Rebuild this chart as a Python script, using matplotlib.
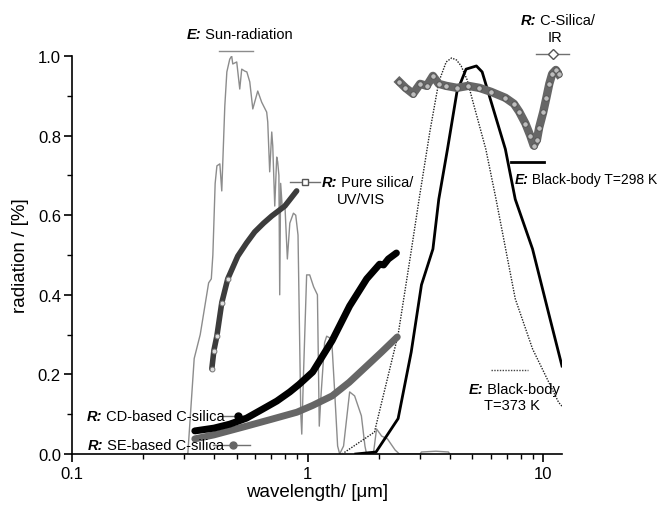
import matplotlib
matplotlib.use("Agg")
import matplotlib.pyplot as plt
from matplotlib.ticker import FixedLocator, NullFormatter, LogLocator

plt.rcParams['font.family'] = ['Liberation Sans', 'DejaVu Sans']

# ---------------- data (wavelength in um, radiation fraction) ----------------
sun_wl = [0.30, 0.31, 0.33, 0.35, 0.38, 0.39, 0.396, 0.405, 0.412, 0.424, 0.432,
          0.445, 0.454, 0.467, 0.476, 0.481, 0.50, 0.515, 0.525, 0.541, 0.552,
          0.568, 0.585, 0.614, 0.638, 0.670, 0.677, 0.690, 0.704, 0.711, 0.725,
          0.739, 0.746, 0.755, 0.761, 0.768, 0.78, 0.80, 0.82, 0.84, 0.87, 0.89,
          0.91, 0.935, 0.944, 0.96, 0.99, 1.02, 1.06, 1.10, 1.12, 1.14, 1.18,
          1.204, 1.264, 1.30, 1.34, 1.367, 1.42, 1.507, 1.582, 1.69, 1.75, 1.778,
          1.90, 1.96, 2.06, 2.18, 2.35, 2.45, 3.0, 3.04, 3.5, 3.96, 4.0]
sun_val = [0.0, 0.0, 0.24, 0.30, 0.43, 0.44, 0.50, 0.68, 0.724, 0.729, 0.661,
           0.874, 0.96, 0.992, 1.0, 0.98, 0.985, 0.917, 0.967, 0.962, 0.96,
           0.935, 0.867, 0.912, 0.884, 0.859, 0.834, 0.709, 0.809, 0.774, 0.623,
           0.746, 0.734, 0.70, 0.40, 0.68, 0.62, 0.63, 0.49, 0.58, 0.605, 0.60,
           0.55, 0.10, 0.05, 0.20, 0.45, 0.45, 0.42, 0.40, 0.07, 0.15, 0.28,
           0.296, 0.289, 0.163, 0.02, 0.0, 0.02, 0.156, 0.146, 0.096, 0.02, 0.0,
           0.0, 0.063, 0.045, 0.038, 0.01, 0.0, 0.0, 0.005, 0.007, 0.005, 0.0]

pure_wl = [0.392, 0.400, 0.412, 0.432, 0.458, 0.505, 0.55, 0.596, 0.65, 0.704, 0.80, 0.898]
pure_val = [0.214, 0.26, 0.297, 0.38, 0.44, 0.497, 0.53, 0.558, 0.58, 0.598, 0.623, 0.661]

cd_wl = [0.332, 0.40, 0.467, 0.55, 0.645, 0.74, 0.84, 0.92, 1.05, 1.24, 1.27, 1.507,
         1.78, 2.02, 2.1, 2.2, 2.38]
cd_val = [0.058, 0.065, 0.075, 0.09, 0.113, 0.133, 0.156, 0.175, 0.206, 0.275, 0.285,
          0.372, 0.44, 0.477, 0.475, 0.49, 0.505]

se_wl = [0.332, 0.40, 0.55, 0.70, 0.90, 1.05, 1.27, 1.50, 1.78, 2.05, 2.40]
se_val = [0.038, 0.048, 0.07, 0.087, 0.105, 0.122, 0.146, 0.18, 0.221, 0.255, 0.294]

bb298_wl = [1.60, 1.95, 2.42, 2.75, 3.04, 3.4, 3.6, 3.92, 4.3, 4.7, 5.2, 5.5, 6.9,
            7.6, 9.0, 10.6, 12.0]
bb298_val = [0.0, 0.005, 0.089, 0.256, 0.425, 0.515, 0.64, 0.766, 0.91, 0.967,
             0.975, 0.96, 0.766, 0.64, 0.515, 0.347, 0.221]

bb373_wl = [1.40, 1.92, 2.42, 2.75, 2.97, 3.3, 3.6, 3.87, 4.08, 4.28, 4.48, 4.75,
            5.0, 5.7, 6.3, 7.6, 9.0, 11.6, 12.0]
bb373_val = [0.0, 0.055, 0.30, 0.51, 0.64, 0.81, 0.935, 0.985, 0.995, 0.99, 0.975,
             0.94, 0.89, 0.766, 0.64, 0.39, 0.264, 0.13, 0.12]

ir_wl = [2.45, 2.6, 2.8, 3.0, 3.2, 3.4, 3.6, 3.87, 4.3, 4.8, 5.35, 6.0, 6.9, 7.5,
         7.9, 8.4, 8.8, 9.1, 9.4, 9.6, 10.0, 10.3, 10.6, 10.9, 11.3, 11.6]
ir_val = [0.935, 0.92, 0.905, 0.93, 0.925, 0.95, 0.93, 0.925, 0.92, 0.925, 0.92,
          0.91, 0.895, 0.88, 0.86, 0.83, 0.80, 0.775, 0.79, 0.82, 0.86, 0.895,
          0.93, 0.955, 0.965, 0.955]

y_ticks = [0.0, 0.2, 0.4, 0.6, 0.8, 1.0]
y_ticklabels = ['0.0', '0.2', '0.4', '0.6', '0.8', '1.0']
x_ticks = [0.1, 1, 10]
x_ticklabels = ['0.1', '1', '10']

# ---------------- figure ----------------
fig = plt.figure(figsize=(6.64, 5.06), dpi=100)
ax = fig.add_axes([72/664, 51/506, 490/664, 398/506])

ax.plot(sun_wl, sun_val, color='#8c8c8c', lw=1.0, zorder=2)
ax.plot(bb373_wl, bb373_val, color='#222222', lw=1.0, ls=(0, (1, 1)), zorder=3)
ax.plot(bb298_wl, bb298_val, color='black', lw=2.0, zorder=3)
ax.plot(se_wl, se_val, color='#666666', lw=5, solid_capstyle='round', zorder=4)
ax.plot(cd_wl, cd_val, color='black', lw=5, solid_capstyle='round', zorder=4)
ax.plot(pure_wl, pure_val, color='#3c3c3c', lw=4, solid_capstyle='round', zorder=4)
ax.plot(pure_wl[:5], pure_val[:5], ls='none', marker='o', ms=3.5, mfc='#dddddd',
        mec='#777777', mew=0.7, zorder=5)
ax.plot(ir_wl, ir_val, color='#666666', lw=6, zorder=4)
ax.plot(ir_wl, ir_val, ls='none', marker='o', ms=4, mfc='#bdbdbd', mec='#555555',
        mew=0.7, zorder=5)

ax.set_xscale('log')
ax.set_xlim(0.1, 12.0)
ax.set_ylim(0.0, 1.0)

ax.spines['top'].set_visible(False)
ax.spines['right'].set_visible(False)
ax.spines['left'].set_linewidth(1.2)
ax.spines['bottom'].set_linewidth(1.2)

ax.xaxis.set_major_locator(FixedLocator(x_ticks))
ax.set_xticklabels(x_ticklabels)
ax.xaxis.set_minor_locator(LogLocator(base=10, subs=range(2, 10)))
ax.xaxis.set_minor_formatter(NullFormatter())
ax.set_yticks(y_ticks)
ax.set_yticklabels(y_ticklabels)
ax.yaxis.set_minor_locator(FixedLocator([0.1, 0.3, 0.5, 0.7, 0.9]))
ax.tick_params(axis='both', which='major', direction='out', length=6, width=1.2,
               labelsize=12, pad=2)
ax.tick_params(axis='both', which='minor', direction='out', length=3.5, width=1.0)
ax.tick_params(axis='x', which='major', pad=3)

ax.set_xlabel('wavelength/ [μm]', fontsize=13.5, labelpad=1)
ax.set_ylabel('radiation / [%]', fontsize=13.5, labelpad=6)

fs = 10.5


def lab(x, y, tag, rest, size=fs):
    """Bold-italic tag followed by plain text, left edge at data (x, y)."""
    t = ax.text(x, y, tag, fontsize=size, fontweight='bold', style='italic',
                ha='left', va='center', clip_on=False, zorder=6)
    ax.annotate(' ' + rest, xy=(1, 0.5), xycoords=t, ha='left', va='center',
                fontsize=size, annotation_clip=False, zorder=6)


# Sun-radiation
ax.plot([0.42, 0.588], [1.013, 1.013], color='#8c8c8c', lw=1.0, clip_on=False)
lab(0.307, 1.055, 'E:', 'Sun-radiation')

# C-Silica / IR
ax.plot([9.34, 12.9], [1.005, 1.005], color='#707070', lw=1.0, clip_on=False)
ax.plot([11.03], [1.005], marker='D', ms=5, mfc='white', mec='#555555', clip_on=False)
lab(7.99, 1.090, 'R:', 'C-Silica/')
ax.text(11.2, 1.048, 'IR', fontsize=fs, ha='center', va='center', clip_on=False)

# Pure silica
ax.plot([0.839, 1.126], [0.683, 0.683], color='#707070', lw=1.0)
ax.plot([0.97], [0.683], marker='s', ms=4.5, mfc='white', mec='#555555')
lab(1.144, 0.683, 'R:', 'Pure silica/')
ax.text(1.69, 0.640, 'UV/VIS', fontsize=fs, ha='center', va='center')

# Black-body 298 K
ax.plot([7.32, 10.1], [0.734, 0.734], color='black', lw=2.0)
lab(7.54, 0.691, 'E:', 'Black-body T=298 K', size=10)

# Black-body 373 K
ax.plot([6.02, 8.64], [0.211, 0.211], color='#444444', lw=1.0, ls=(0, (1, 1)))
lab(4.81, 0.163, 'E:', 'Black-body')
ax.text(7.39, 0.123, 'T=373 K', fontsize=fs, ha='center', va='center')

# CD-based
ax.plot([0.424, 0.585], [0.0955, 0.0955], color='#707070', lw=1.0)
ax.plot([0.505], [0.0955], marker='o', ms=5, color='black')
lab(0.1157, 0.0955, 'R:', 'CD-based C-silica')

# SE-based
ax.plot([0.396, 0.568], [0.0226, 0.0226], color='#707070', lw=1.0)
ax.plot([0.481], [0.0226], marker='o', ms=5, color='#666666')
lab(0.1169, 0.0226, 'R:', 'SE-based C-silica')

fig.savefig('out.png', dpi=100)
